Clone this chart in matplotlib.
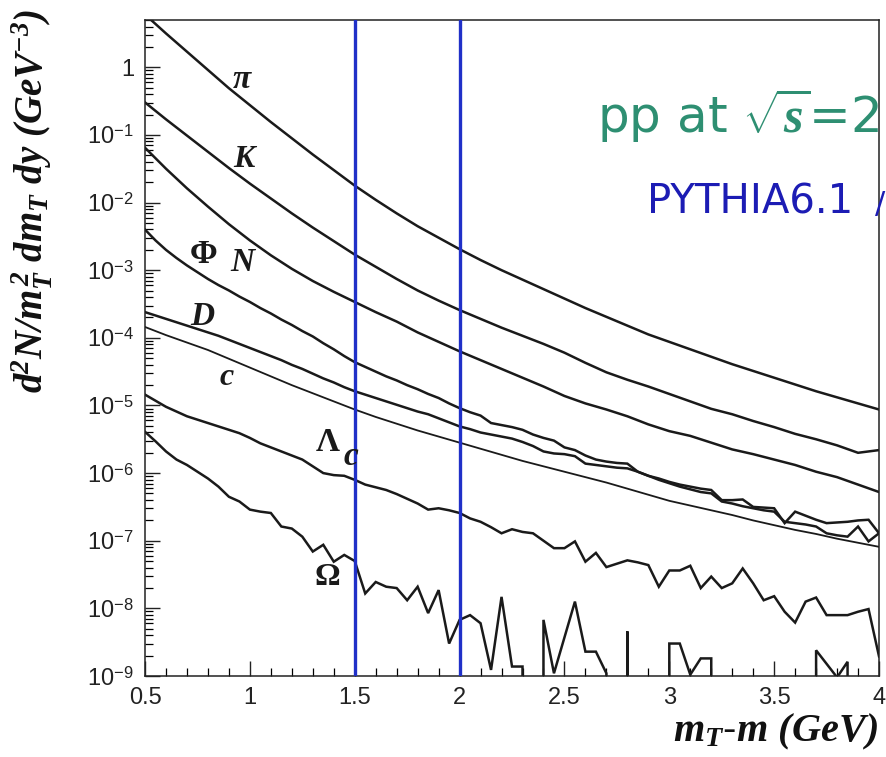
import matplotlib
matplotlib.use("Agg")
import matplotlib.pyplot
import numpy

# m_T - m grids (GeV): 0.1 steps for the smooth spectra, 0.05 for the noisy ones
mt_coarse = numpy.round(numpy.arange(0.5, 4.001, 0.1), 2)
mt_fine = numpy.round(numpy.arange(0.5, 4.001, 0.05), 3)

# log10 of d2N/mT2 dmT dy (GeV^-3)
pi_log = [0.78, 0.50, 0.23, -0.04, -0.31, -0.56, -0.81, -1.05, -1.29, -1.52,
          -1.75, -1.96, -2.16, -2.35, -2.52, -2.69, -2.85, -3.00, -3.14, -3.28,
          -3.42, -3.56, -3.69, -3.82, -3.95, -4.06, -4.17, -4.28, -4.39, -4.49,
          -4.59, -4.69, -4.79, -4.88, -4.97, -5.06]
k_log = [-0.52, -0.77, -1.01, -1.25, -1.49, -1.72, -1.94, -2.16, -2.37, -2.57,
         -2.77, -2.95, -3.13, -3.30, -3.45, -3.59, -3.72, -3.85, -3.97, -4.09,
         -4.22, -4.37, -4.51, -4.62, -4.72, -4.83, -4.94, -5.05, -5.13, -5.23,
         -5.32, -5.42, -5.50, -5.59, -5.70, -5.66]
phi_log = [-1.19, -1.50, -1.79, -2.06, -2.32, -2.56, -2.78, -2.98, -3.16, -3.32,
           -3.47, -3.62, -3.76, -3.92, -4.06, -4.20, -4.33, -4.46, -4.59, -4.72,
           -4.86, -4.97, -5.06, -5.16, -5.28, -5.38, -5.45, -5.55, -5.65, -5.72,
           -5.80, -5.88, -5.98, -6.06, -6.17, -6.28]
c_log = [-3.84, -3.96, -4.07, -4.18, -4.31, -4.44, -4.57, -4.70, -4.82, -4.94,
         -5.06, -5.17, -5.27, -5.37, -5.46, -5.55, -5.64, -5.73, -5.82, -5.90,
         -5.98, -6.06, -6.14, -6.23, -6.32, -6.41, -6.48, -6.55, -6.62, -6.70,
         -6.77, -6.84, -6.90, -6.97, -7.03, -7.09]
n_log = [-2.40, -2.56, -2.70, -2.82, -2.93, -3.03, -3.13, -3.22, -3.30, -3.39,
         -3.47, -3.56, -3.64, -3.73, -3.81, -3.90, -3.98, -4.08, -4.17, -4.27,
         -4.36, -4.43, -4.50, -4.57, -4.63, -4.70, -4.76, -4.83, -4.89, -4.97,
         -5.04, -5.10, -5.15, -5.26, -5.29, -5.32, -5.36, -5.43, -5.48, -5.52,
         -5.62, -5.66, -5.74, -5.80, -5.83, -5.85, -5.86, -5.98, -6.04, -6.08,
         -6.13, -6.17, -6.20, -6.23, -6.25, -6.40, -6.40, -6.39, -6.50, -6.51,
         -6.52, -6.74, -6.57, -6.63, -6.69, -6.74, -6.73, -6.72, -6.70, -6.69,
         -6.89]
d_log = [-3.62, -3.67, -3.72, -3.77, -3.82, -3.87, -3.92, -3.97, -4.03, -4.09,
         -4.15, -4.21, -4.27, -4.33, -4.40, -4.46, -4.53, -4.60, -4.66, -4.73,
         -4.79, -4.84, -4.89, -4.94, -4.99, -5.04, -5.09, -5.13, -5.19, -5.25,
         -5.31, -5.35, -5.40, -5.43, -5.46, -5.49, -5.54, -5.60, -5.68, -5.71,
         -5.72, -5.75, -5.86, -5.88, -5.90, -5.92, -5.93, -5.98, -6.04, -6.10,
         -6.15, -6.20, -6.24, -6.28, -6.30, -6.42, -6.45, -6.49, -6.52, -6.55,
         -6.57, -6.72, -6.74, -6.76, -6.79, -6.89, -6.92, -6.94, -6.79, -7.01,
         -6.89]
lambdac_log = [-4.84, -4.93, -5.02, -5.09, -5.16, -5.21, -5.26, -5.31, -5.36, -5.41,
               -5.48, -5.56, -5.62, -5.68, -5.74, -5.80, -5.90, -6.00, -6.03, -6.04,
               -6.10, -6.17, -6.21, -6.25, -6.31, -6.38, -6.45, -6.54, -6.52, -6.55,
               -6.59, -6.67, -6.72, -6.80, -6.89, -6.83, -6.87, -6.89, -7.00, -7.11,
               -7.11, -7.01, -7.31, -7.18, -7.39, -7.34, -7.29, -7.32, -7.36, -7.68,
               -7.44, -7.44, -7.37, -7.70, -7.53, -7.70, -7.63, -7.41, -7.63, -7.88,
               -7.82, -8.05, -8.21, -7.90, -7.84, -8.10, -8.10, -8.10, -8.05, -8.01,
               -8.71]
# None marks an empty bin (zero yield)
omega_log = [-5.39, -5.53, -5.68, -5.80, -5.88, -5.98, -6.08, -6.20, -6.35, -6.42,
             -6.54, -6.57, -6.59, -6.79, -6.82, -6.94, -7.16, -7.06, -7.31, -7.21,
             -7.30, -7.78, -7.61, -7.68, -7.70, -7.88, -7.68, -8.07, -7.73, -8.52,
             -8.17, -8.10, -8.22, -8.91, -7.83, -8.86, -8.86, None, -8.17, -8.96,
             -8.43, -7.90, -8.64, -8.64, -8.96, None, -8.34, None, None, None,
             -8.52, -8.52, -8.98, -8.74, -8.74, None, None, None, None, None,
             None, None, None, None, -8.62, -8.82, -9.02, -8.79, None, None,
             None]

x_ticks = [0.5, 1, 1.5, 2, 2.5, 3, 3.5, 4]
x_labels = ["0.5", "1", "1.5", "2", "2.5", "3", "3.5", "4"]
y_exponents = [-9, -8, -7, -6, -5, -4, -3, -2, -1, 0]
cut_lines = [1.5, 2.0]


def to_yield(values):
    return numpy.array([0.0 if v is None else 10.0 ** v for v in values])


matplotlib.pyplot.rcParams['mathtext.fontset'] = 'custom'
matplotlib.pyplot.rcParams['mathtext.rm'] = 'Liberation Sans'
matplotlib.pyplot.rcParams['mathtext.it'] = 'Liberation Serif:italic:bold'
matplotlib.pyplot.rcParams['mathtext.bf'] = 'Liberation Serif:italic:bold'

fig = matplotlib.pyplot.figure(figsize=(8.87, 7.57), dpi=100)
ax = fig.add_axes([0.1635, 0.107, 0.8275, 0.8666])

ax.set_yscale('log')
ax.set_xlim(0.5, 4.0)
ax.set_ylim(1e-9, 5.0)

line = dict(color='#1a1a1a', lw=1.8, solid_joinstyle='miter')
ax.plot(mt_coarse, to_yield(pi_log), **line)
ax.plot(mt_coarse, to_yield(k_log), **line)
ax.plot(mt_coarse, to_yield(phi_log), **line)
ax.plot(mt_fine, to_yield(n_log), **line)
ax.plot(mt_fine, to_yield(d_log), **line)
ax.plot(mt_coarse, to_yield(c_log), color='#1a1a1a', lw=1.3)
ax.plot(mt_fine, to_yield(lambdac_log), **line)
ax.plot(mt_fine, to_yield(omega_log), **line)

for xc in cut_lines:
    ax.axvline(xc, color='#2030c8', lw=2.4, zorder=3)

# particle labels: latin/lowercase in bold italic, capital greek upright
lab = dict(family='Liberation Serif', weight='bold', color='#1a1a1a',
           ha='center', va='center')
ax.text(0.96, 10 ** -0.18, u"\u03c0", fontsize=24, style='italic', **lab)
ax.text(0.97, 10 ** -1.37, "K", fontsize=23, style='italic', **lab)
ax.text(0.78, 10 ** -2.77, u"\u03a6", fontsize=24, **lab)
ax.text(0.965, 10 ** -2.88, "N", fontsize=24, style='italic', **lab)
ax.text(0.775, 10 ** -3.69, "D", fontsize=24, style='italic', **lab)
ax.text(0.89, 10 ** -4.59, "c", fontsize=23, style='italic', **lab)
ax.text(1.37, 10 ** -5.55, u"\u039b", fontsize=24, **lab)
ax.text(1.48, 10 ** -5.76, "c", fontsize=24, style='italic', **lab)
ax.text(1.37, 10 ** -7.54, u"\u03a9", fontsize=23, **lab)

# handwritten notes
fig.text(0.673, 0.825, r"pp at $\sqrt{s}$=2", fontsize=36, color='#2e8f72',
         family='DejaVu Sans', ha='left', va='baseline')
fig.text(0.729, 0.718, "PYTHIA6.1", fontsize=29, color='#1c1cb4',
         family=['Liberation Sans Narrow', 'DejaVu Sans'], ha='left', va='baseline')
fig.text(0.998, 0.718, "/", fontsize=22, color='#1c1cb4',
         family='DejaVu Sans', ha='right', va='baseline')

ax.set_xticks(x_ticks)
ax.set_xticklabels(x_labels)
ax.xaxis.set_minor_locator(matplotlib.ticker.MultipleLocator(0.1))
ax.set_yticks([10.0 ** e for e in y_exponents])
ax.set_yticklabels([r"$10^{%d}$" % e if e != 0 else "1" for e in y_exponents])
ax.yaxis.set_minor_locator(matplotlib.ticker.LogLocator(base=10, subs=numpy.arange(2, 10), numticks=20))
ax.yaxis.set_minor_formatter(matplotlib.ticker.NullFormatter())

ax.tick_params(which='major', direction='in', length=11, width=1.0, top=False, right=False,
               labelsize=17, colors='#222222')
ax.tick_params(which='minor', direction='in', length=6, width=0.9, top=False, right=False)
ax.tick_params(axis='y', which='major', pad=8)
ax.tick_params(axis='x', which='major', pad=8)
for lbl in ax.get_xticklabels() + ax.get_yticklabels():
    lbl.set_family('Liberation Sans')
for s in ax.spines.values():
    s.set_linewidth(1.1)
    s.set_color('#222222')

fig.text(0.036, 0.735, r"$\mathbf{d^2N/m_T^{\,2}\ dm_T\ dy\ (GeV^{-3})}$", fontsize=28,
         rotation=90, ha='center', va='center', color='#111111')
fig.text(0.99, 0.02, r"$\mathbf{m_T\text{-}m\ (GeV)}$", fontsize=29,
         ha='right', va='baseline', color='#111111')

fig.savefig("out.png", dpi=100)
